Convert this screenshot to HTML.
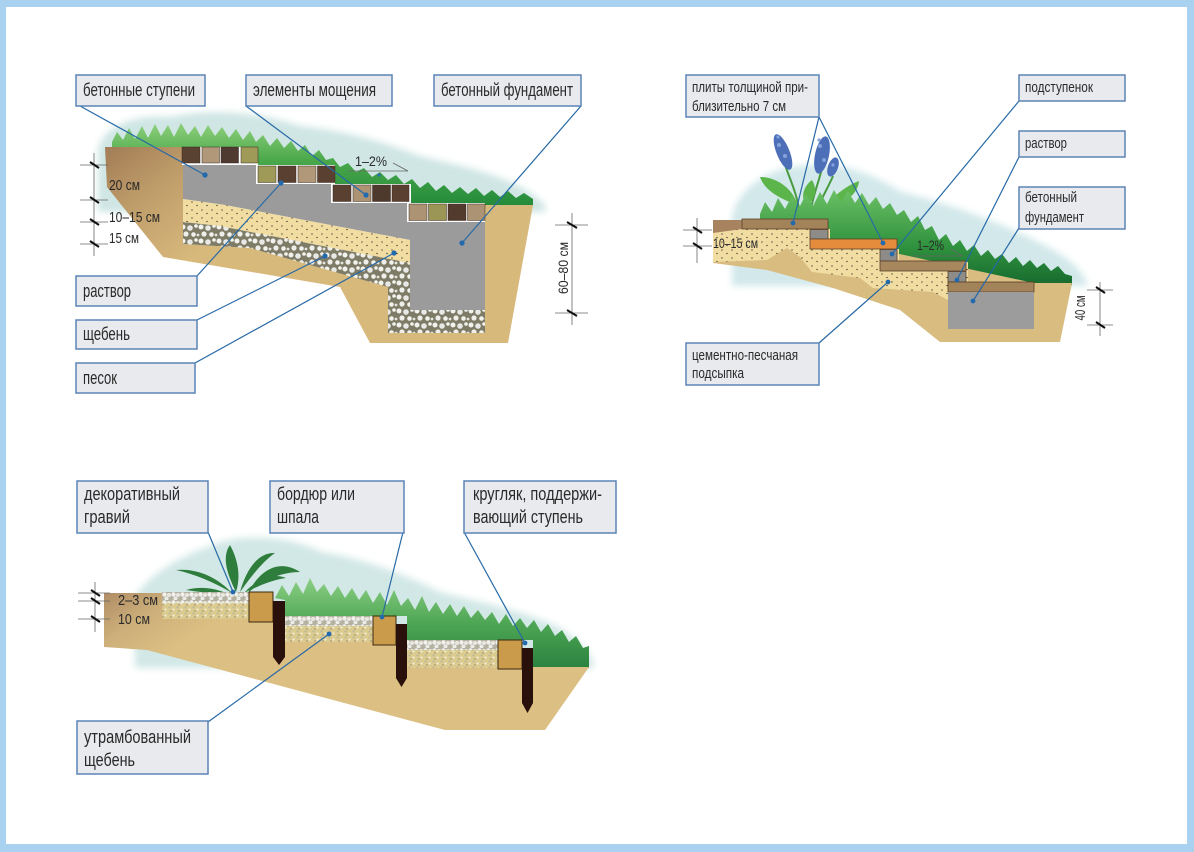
<!DOCTYPE html>
<html><head><meta charset="utf-8">
<style>
html,body{margin:0;padding:0;background:#a8d2f0;}
svg{display:block;}
text{font-family:"Liberation Sans",sans-serif;fill:#2a2a2a;}
</style></head><body>
<svg width="1194" height="852" viewBox="0 0 1194 852" xmlns="http://www.w3.org/2000/svg">
<defs>
 <pattern id="sandA" width="10" height="8" patternUnits="userSpaceOnUse">
  <rect width="10" height="8" fill="#f1dca2"/>
  <circle cx="2" cy="2" r="0.65" fill="#2d2a20"/>
  <circle cx="7" cy="5.5" r="0.65" fill="#2d2a20"/>
 </pattern>
 <pattern id="gravelA" width="18" height="14" patternUnits="userSpaceOnUse">
  <rect width="18" height="14" fill="#7e7c66"/>
  <circle cx="3" cy="3" r="2.5" fill="#f2f2ee"/>
  <circle cx="10" cy="4" r="2.8" fill="#e8e9e6"/>
  <circle cx="16" cy="2" r="1.8" fill="#f4f4f0"/>
  <circle cx="6" cy="10" r="2.6" fill="#eeeeea"/>
  <circle cx="13.5" cy="10.5" r="2.3" fill="#f2f2ee"/>
  <circle cx="0" cy="11" r="1.4" fill="#e6e6e2"/>
  <circle cx="18" cy="11" r="1.4" fill="#e6e6e2"/>
 </pattern>
 <pattern id="peb" width="9" height="8" patternUnits="userSpaceOnUse">
  <rect width="9" height="8" fill="#b5b2a2"/>
  <circle cx="2.5" cy="2.5" r="2.2" fill="#f0f0ec"/>
  <circle cx="7" cy="3" r="2" fill="#e8e8e2"/>
  <circle cx="4.5" cy="6.5" r="2" fill="#ecece6"/>
 </pattern>
 <pattern id="yel" width="8" height="6" patternUnits="userSpaceOnUse">
  <rect width="8" height="6" fill="#dccb8e"/>
  <circle cx="1.5" cy="1.5" r="1" fill="#b8b4a0"/>
  <circle cx="5.5" cy="3.5" r="1.1" fill="#eeeadc"/>
  <circle cx="3" cy="5" r="0.7" fill="#8a8470"/>
 </pattern>
 <linearGradient id="soilTL" x1="105" y1="147" x2="190" y2="260" gradientUnits="userSpaceOnUse">
  <stop offset="0" stop-color="#a27c56"/><stop offset="0.45" stop-color="#bf9d6a"/><stop offset="1" stop-color="#d8b97c"/>
 </linearGradient>
 <linearGradient id="soilB" x1="104" y1="593" x2="150" y2="665" gradientUnits="userSpaceOnUse">
  <stop offset="0" stop-color="#b08c66"/><stop offset="0.5" stop-color="#cdb07a"/><stop offset="1" stop-color="#dcbf82"/>
 </linearGradient>
 <linearGradient id="grass" x1="0" y1="0" x2="0" y2="1">
  <stop offset="0" stop-color="#8fd07c"/><stop offset="0.45" stop-color="#4aa84a"/><stop offset="1" stop-color="#238a3a"/>
 </linearGradient>
 <linearGradient id="grassD" x1="0" y1="0" x2="0" y2="1">
  <stop offset="0" stop-color="#6cc064"/><stop offset="0.6" stop-color="#2f923e"/><stop offset="1" stop-color="#176a2e"/>
 </linearGradient>
 <linearGradient id="grassB" x1="0" y1="0" x2="0" y2="1">
  <stop offset="0" stop-color="#8ccf84"/><stop offset="0.5" stop-color="#4ea654"/><stop offset="1" stop-color="#2a8240"/>
 </linearGradient>
 <filter id="blur" x="-10%" y="-20%" width="120%" height="140%"><feGaussianBlur stdDeviation="3.5"/></filter>
</defs>

<rect width="1194" height="852" fill="#a8d2f0"/>
<rect x="6" y="7" width="1181" height="837" fill="#ffffff"/>

<!-- ================= TOP-LEFT DIAGRAM ================= -->
<path d="M98,150 C102,128 130,114 170,117 C210,108 260,112 300,126 C340,130 380,140 420,156 C470,168 520,178 545,205 L545,212 L98,212 Z" fill="#cfe6e4" filter="url(#blur)"/>
<polygon fill="url(#grass)" points="112,142 117,132 123,140 129,128 135,139 142,126 148,138 155,124 161,136 168,125 174,137 181,123 188,135 195,126 201,137 208,125 215,136 222,127 229,138 236,129 243,140 250,131 256,142 263,135 270,146 277,138 284,148 291,141 298,151 305,145 312,156 319,150 326,160 333,158 340,167 348,163 356,172 364,168 372,177 380,172 388,180 396,175 404,184 412,179 420,188 428,182 436,191 444,185 452,193 460,187 468,194 476,188 484,196 492,190 500,197 508,191 516,198 524,193 533,199 533,206 409,206 409,187 333,187 333,168 258,168 258,149 112,149"/>
<polygon fill="url(#soilTL)" points="105,147 183,147 183,244 250,248 485,248 485,205 533,205 508,343 370,343 340,287 163,257 107,187"/>
<polygon fill="#9b9b9b" points="183,165 258,165 258,184 333,184 333,203 409,203 409,222 485,222 485,310 410,310 410,240 225,205 183,199"/>
<polygon fill="url(#sandA)" points="183,199 225,205 410,240 410,263 220,226 183,222"/>
<polygon fill="url(#gravelA)" points="183,222 220,226 410,263 410,310 485,310 485,333 388,333 388,287 250,248 183,244"/>
<!-- pavers -->
<rect x="182" y="147" width="76" height="18" fill="#fff"/>
<rect x="256" y="165" width="79" height="19" fill="#fff"/>
<rect x="331" y="184" width="80" height="19" fill="#fff"/>
<rect x="407" y="203" width="78" height="19" fill="#fff"/>
<g stroke="#3a2a20" stroke-width="0.5">
 <rect x="182" y="147" width="18" height="16" fill="#5a4232"/>
 <rect x="202" y="147" width="17.5" height="16" fill="#b09878"/>
 <rect x="221" y="147" width="17.5" height="16" fill="#4e3a30"/>
 <rect x="241" y="147" width="17" height="16" fill="#a09a58"/>
 <rect x="258" y="166" width="18" height="16.5" fill="#a09a58"/>
 <rect x="278" y="166" width="18" height="16.5" fill="#5a4030"/>
 <rect x="298" y="166" width="18" height="16.5" fill="#b09878"/>
 <rect x="317.5" y="166" width="17.5" height="16.5" fill="#5a4030"/>
 <rect x="333" y="185" width="18" height="16.5" fill="#5a4030"/>
 <rect x="353" y="185" width="18" height="16.5" fill="#ab9374"/>
 <rect x="372.5" y="185" width="18" height="16.5" fill="#4e3a2c"/>
 <rect x="392" y="185" width="17" height="16.5" fill="#5a4030"/>
 <rect x="409" y="204" width="18" height="16.5" fill="#ab9374"/>
 <rect x="428.5" y="204" width="18" height="16.5" fill="#9c9656"/>
 <rect x="448" y="204" width="18" height="16.5" fill="#523a2c"/>
 <rect x="467.5" y="204" width="17.5" height="16.5" fill="#ab9374"/>
</g>
<!-- dims TL -->
<g stroke="#666" stroke-width="0.8">
 <line x1="94" y1="153" x2="94" y2="256"/>
 <line x1="80" y1="165" x2="108" y2="165"/>
 <line x1="80" y1="200" x2="108" y2="200"/>
 <line x1="80" y1="222" x2="108" y2="222"/>
 <line x1="80" y1="244" x2="108" y2="244"/>
 <line x1="572" y1="213" x2="572" y2="325"/>
 <line x1="555" y1="225" x2="588" y2="225"/>
 <line x1="555" y1="313" x2="588" y2="313"/>
 <line x1="348" y1="171" x2="408" y2="171"/>
 <line x1="393" y1="163" x2="408" y2="171"/>
</g>
<g stroke="#111" stroke-width="2">
 <line x1="90" y1="162" x2="99" y2="168"/>
 <line x1="90" y1="197" x2="99" y2="203"/>
 <line x1="90" y1="219" x2="99" y2="225"/>
 <line x1="90" y1="241" x2="99" y2="247"/>
 <line x1="567" y1="222" x2="577" y2="228"/>
 <line x1="567" y1="310" x2="577" y2="316"/>
</g>
<text x="109" y="190" font-size="15" textLength="31" lengthAdjust="spacingAndGlyphs">20 см</text>
<text x="109" y="222" font-size="15" textLength="51" lengthAdjust="spacingAndGlyphs">10–15 см</text>
<text x="109" y="243" font-size="15" textLength="30" lengthAdjust="spacingAndGlyphs">15 см</text>
<text x="355" y="166" font-size="14" textLength="32" lengthAdjust="spacingAndGlyphs">1–2%</text>
<text transform="translate(568,268) rotate(-90)" text-anchor="middle" font-size="14" textLength="52" lengthAdjust="spacingAndGlyphs">60–80 см</text>
<circle cx="379" cy="175" r="1.6" fill="#2a6db0"/>
<!-- leaders TL -->
<g stroke="#2769a6" stroke-width="1.2" fill="none">
 <line x1="80" y1="106" x2="205" y2="175"/>
 <line x1="246" y1="106" x2="366" y2="195"/>
 <line x1="581" y1="106" x2="462" y2="243"/>
 <line x1="197" y1="276" x2="281" y2="183"/>
 <line x1="197" y1="320" x2="325" y2="256"/>
 <line x1="195" y1="363" x2="394" y2="253"/>
</g>
<g fill="#2269ad">
 <circle cx="205" cy="175" r="2.6"/><circle cx="366" cy="195" r="2.6"/><circle cx="462" cy="243" r="2.6"/>
 <circle cx="281" cy="183" r="2.6"/><circle cx="325" cy="256" r="2.6"/><circle cx="394" cy="253" r="2.6"/>
</g>
<!-- labels TL -->
<g fill="#e8eaed" stroke="#5a84b8" stroke-width="1.5">
 <rect x="76" y="75" width="129" height="31"/>
 <rect x="246" y="75" width="146" height="31"/>
 <rect x="434" y="75" width="147" height="31"/>
 <rect x="76" y="276" width="121" height="30"/>
 <rect x="76" y="320" width="121" height="29"/>
 <rect x="76" y="363" width="119" height="30"/>
</g>
<text x="83" y="96" font-size="18" textLength="112" lengthAdjust="spacingAndGlyphs">бетонные ступени</text>
<text x="253" y="96" font-size="18" textLength="123" lengthAdjust="spacingAndGlyphs">элементы мощения</text>
<text x="441" y="96" font-size="18" textLength="132" lengthAdjust="spacingAndGlyphs">бетонный фундамент</text>
<text x="83" y="297" font-size="18" textLength="48" lengthAdjust="spacingAndGlyphs">раствор</text>
<text x="83" y="340" font-size="18" textLength="47" lengthAdjust="spacingAndGlyphs">щебень</text>
<text x="83" y="384" font-size="18" textLength="34" lengthAdjust="spacingAndGlyphs">песок</text>

<!-- ================= TOP-RIGHT DIAGRAM ================= -->
<path d="M732,218 C736,190 768,168 800,166 C840,160 872,174 902,192 C942,202 990,218 1030,238 C1060,252 1082,266 1088,286 L732,286 Z" fill="#d2e8ea" filter="url(#blur)"/>
<!-- flowers -->
<g stroke="#4a9a40" stroke-width="2" fill="none">
 <path d="M800,216 C798,195 790,180 784,162"/>
 <path d="M810,216 C812,198 818,185 822,168"/>
 <path d="M815,216 C820,200 828,188 833,176"/>
</g>
<g fill="#4d6fb8">
 <ellipse cx="783" cy="152" rx="6.5" ry="19" transform="rotate(-22 783 152)"/>
 <ellipse cx="822" cy="155" rx="7" ry="19" transform="rotate(12 822 155)"/>
 <ellipse cx="833" cy="167" rx="5" ry="10" transform="rotate(20 833 167)"/>
</g>
<g fill="#86a2dc">
 <circle cx="779" cy="145" r="2"/><circle cx="785" cy="156" r="2"/><circle cx="778" cy="137" r="1.6"/>
 <circle cx="820" cy="146" r="2"/><circle cx="824" cy="160" r="2"/><circle cx="819" cy="140" r="1.6"/>
 <circle cx="833" cy="165" r="1.6"/>
</g>
<g fill="#5cb54a">
 <path d="M798,206 C786,200 766,194 760,177 C776,177 793,188 798,206 Z"/>
 <path d="M826,206 C834,195 848,185 859,181 C858,195 843,205 826,206 Z"/>
 <path d="M806,206 C800,196 804,186 812,180 C818,190 815,200 806,206 Z"/>
</g>
<polygon fill="url(#grassD)" points="760,214 765,202 772,212 778,198 785,209 792,196 799,208 806,194 813,206 820,192 827,204 834,190 841,202 848,191 855,203 862,193 869,205 876,197 883,209 890,203 897,215 904,210 911,222 918,216 925,230 932,226 939,240 946,234 953,246 960,240 967,251 974,245 981,256 988,250 995,259 1002,254 1009,263 1016,257 1023,266 1030,260 1037,268 1044,263 1051,271 1058,266 1065,274 1072,276 1072,285 948,285 948,263 880,263 880,241 810,241 810,221 760,221"/>
<polygon fill="#d9bc80" points="713,220 742,220 1034,283 1072,283 1060,342 940,342 900,310 833,288 767,270 713,263"/>
<rect x="713" y="220" width="30" height="13" fill="#a88360"/>
<polygon fill="url(#sandA)" points="713,233 742,229 830,229 830,249 899,249 899,262 968,262 968,282 948,282 948,300 933,292 873,288 860,278 812,272 800,257 787,248 767,260 713,262"/>
<g stroke="#5a4028" stroke-width="0.8">
 <rect x="742" y="219" width="86" height="10" fill="#a2835a"/>
 <rect x="810" y="229.5" width="18" height="9.5" fill="#8e8c88"/>
 <rect x="810" y="239" width="87" height="10" fill="#e58c3c"/>
 <rect x="880" y="249.5" width="17" height="11.5" fill="#8e8c88"/>
 <rect x="880" y="261" width="86" height="10" fill="#a6875e"/>
 <rect x="948" y="271.5" width="18" height="10.5" fill="#8e8c88"/>
 <rect x="948" y="282" width="86" height="10" fill="#a2835a"/>
</g>
<rect x="948" y="292" width="86" height="37" fill="#9c9c9c"/>
<!-- dims TR -->
<g stroke="#666" stroke-width="0.8">
 <line x1="697" y1="218" x2="697" y2="263"/>
 <line x1="683" y1="230" x2="712" y2="230"/>
 <line x1="683" y1="246" x2="712" y2="246"/>
 <line x1="1100" y1="282" x2="1100" y2="336"/>
 <line x1="1087" y1="290" x2="1113" y2="290"/>
 <line x1="1087" y1="325" x2="1113" y2="325"/>
 <line x1="913" y1="256" x2="962" y2="256"/>
 <line x1="951" y1="249" x2="962" y2="256"/>
</g>
<g stroke="#111" stroke-width="2">
 <line x1="693" y1="227" x2="702" y2="233"/>
 <line x1="693" y1="243" x2="702" y2="249"/>
 <line x1="1096" y1="287" x2="1105" y2="293"/>
 <line x1="1096" y1="322" x2="1105" y2="328"/>
</g>
<text x="713" y="248" font-size="14" textLength="45" lengthAdjust="spacingAndGlyphs">10–15 см</text>
<text x="917" y="250" font-size="14" textLength="27" lengthAdjust="spacingAndGlyphs">1–2%</text>
<text transform="translate(1085,308) rotate(-90)" text-anchor="middle" font-size="15" textLength="25" lengthAdjust="spacingAndGlyphs">40 см</text>
<!-- leaders TR -->
<g stroke="#2769a6" stroke-width="1.2" fill="none">
 <line x1="819" y1="117" x2="793" y2="223"/>
 <line x1="819" y1="117" x2="883" y2="243"/>
 <line x1="1019" y1="101" x2="892" y2="254"/>
 <line x1="1019" y1="157" x2="957" y2="280"/>
 <line x1="1019" y1="228" x2="973" y2="301"/>
 <line x1="819" y1="343" x2="888" y2="282"/>
</g>
<g fill="#2269ad">
 <circle cx="793" cy="223" r="2.4"/><circle cx="883" cy="243" r="2.4"/><circle cx="892" cy="254" r="2.4"/>
 <circle cx="957" cy="280" r="2.4"/><circle cx="973" cy="301" r="2.4"/><circle cx="888" cy="282" r="2.4"/>
</g>
<g fill="#e8eaed" stroke="#5a84b8" stroke-width="1.5">
 <rect x="686" y="75" width="133" height="42"/>
 <rect x="1019" y="75" width="106" height="26"/>
 <rect x="1019" y="131" width="106" height="26"/>
 <rect x="1019" y="187" width="106" height="42"/>
 <rect x="686" y="343" width="133" height="42"/>
</g>
<text x="692" y="92" font-size="15" textLength="116" lengthAdjust="spacingAndGlyphs">плиты толщиной при-</text>
<text x="692" y="111" font-size="15" textLength="94" lengthAdjust="spacingAndGlyphs">близительно 7 см</text>
<text x="1025" y="92" font-size="15" textLength="68" lengthAdjust="spacingAndGlyphs">подступенок</text>
<text x="1025" y="148" font-size="15" textLength="42" lengthAdjust="spacingAndGlyphs">раствор</text>
<text x="1025" y="202" font-size="15" textLength="52" lengthAdjust="spacingAndGlyphs">бетонный</text>
<text x="1025" y="222" font-size="15" textLength="59" lengthAdjust="spacingAndGlyphs">фундамент</text>
<text x="692" y="360" font-size="15" textLength="106" lengthAdjust="spacingAndGlyphs">цементно-песчаная</text>
<text x="692" y="378" font-size="15" textLength="52" lengthAdjust="spacingAndGlyphs">подсыпка</text>

<!-- ================= BOTTOM DIAGRAM ================= -->
<path d="M135,597 C148,575 180,556 210,546 C240,532 290,536 322,552 C360,558 400,572 440,592 C480,602 530,612 560,628 C580,640 594,655 594,668 L135,668 Z" fill="#d2e8e6" filter="url(#blur)"/>
<g fill="#2f7d3c">
 <path d="M232,593 C218,578 198,568 176,570 C194,574 214,582 232,593 Z"/>
 <path d="M236,592 C226,572 222,556 230,545 C238,560 241,576 236,592 Z"/>
 <path d="M240,592 C246,570 258,552 275,553 C262,562 250,578 240,592 Z"/>
 <path d="M244,593 C256,580 272,572 286,578 C272,580 258,586 244,593 Z"/>
 <path d="M226,593 C214,588 200,586 186,590 C200,592 214,594 226,593 Z"/>
 <path d="M248,593 C262,566 282,560 300,572 C282,572 262,580 248,593 Z"/>
</g>
<polygon fill="url(#grassB)" points="275,598 282,585 289,596 296,582 303,594 310,578 317,592 324,584 331,596 338,586 345,598 352,588 359,600 366,590 373,603 380,592 387,605 394,590 401,606 408,598 415,610 422,596 429,612 436,602 443,614 450,604 457,616 464,606 471,618 478,610 485,620 492,612 499,624 506,614 513,626 520,618 527,628 534,620 541,632 548,624 555,636 562,630 569,642 576,636 583,648 589,646 589,668 533,668 533,640 407,640 407,616 285,616 285,600"/>
<polygon fill="url(#soilB)" points="104,593 250,593 250,616 373,616 373,640 498,640 498,667 589,667 545,730 445,730 147,650 104,647"/>
<rect x="162" y="592" width="88" height="11" fill="url(#peb)"/>
<rect x="162" y="603" width="88" height="16" fill="url(#yel)"/>
<rect x="284" y="616" width="89" height="10" fill="url(#peb)"/>
<rect x="284" y="626" width="89" height="16" fill="url(#yel)"/>
<rect x="407" y="640" width="91" height="10" fill="url(#peb)"/>
<rect x="407" y="650" width="91" height="18" fill="url(#yel)"/>
<g fill="#c99b4a" stroke="#3a2a10" stroke-width="1">
 <rect x="249" y="592" width="24" height="30"/>
 <rect x="373" y="616" width="23" height="29"/>
 <rect x="498" y="640" width="24" height="29"/>
</g>
<g fill="#2a100a">
 <path d="M273,601 L285,601 L285,657 L279,665 L273,657 Z"/>
 <path d="M396,624 L407,624 L407,678 L401.5,687 L396,678 Z"/>
 <path d="M522,648 L533,648 L533,703 L527.5,713 L522,703 Z"/>
</g>
<!-- dims bottom -->
<g stroke="#666" stroke-width="0.8">
 <line x1="95" y1="582" x2="95" y2="632"/>
 <line x1="78" y1="593" x2="110" y2="593"/>
 <line x1="78" y1="601" x2="110" y2="601"/>
 <line x1="78" y1="619" x2="110" y2="619"/>
</g>
<g stroke="#111" stroke-width="2">
 <line x1="91" y1="590" x2="100" y2="596"/>
 <line x1="91" y1="598" x2="100" y2="604"/>
 <line x1="91" y1="616" x2="100" y2="622"/>
</g>
<text x="118" y="605" font-size="15" textLength="40" lengthAdjust="spacingAndGlyphs">2–3 см</text>
<text x="118" y="624" font-size="15" textLength="32" lengthAdjust="spacingAndGlyphs">10 см</text>
<!-- leaders bottom -->
<g stroke="#2769a6" stroke-width="1.2" fill="none">
 <line x1="208" y1="532" x2="233" y2="592"/>
 <line x1="403" y1="532" x2="382" y2="617"/>
 <line x1="464" y1="532" x2="525" y2="643"/>
 <line x1="208" y1="722" x2="329" y2="634"/>
</g>
<g fill="#2269ad">
 <circle cx="233" cy="592" r="2.4"/><circle cx="382" cy="617" r="2.4"/><circle cx="525" cy="643" r="2.4"/><circle cx="329" cy="634" r="2.4"/>
</g>
<g fill="#e8eaed" stroke="#5a84b8" stroke-width="1.5">
 <rect x="77" y="481" width="131" height="52"/>
 <rect x="270" y="481" width="134" height="52"/>
 <rect x="464" y="481" width="152" height="52"/>
 <rect x="77" y="721" width="131" height="53"/>
</g>
<text x="84" y="500" font-size="18" textLength="96" lengthAdjust="spacingAndGlyphs">декоративный</text>
<text x="84" y="523" font-size="18" textLength="46" lengthAdjust="spacingAndGlyphs">гравий</text>
<text x="277" y="500" font-size="18" textLength="78" lengthAdjust="spacingAndGlyphs">бордюр или</text>
<text x="277" y="523" font-size="18" textLength="42" lengthAdjust="spacingAndGlyphs">шпала</text>
<text x="473" y="500" font-size="18" textLength="129" lengthAdjust="spacingAndGlyphs">кругляк, поддержи-</text>
<text x="473" y="523" font-size="18" textLength="110" lengthAdjust="spacingAndGlyphs">вающий ступень</text>
<text x="84" y="743" font-size="18" textLength="107" lengthAdjust="spacingAndGlyphs">утрамбованный</text>
<text x="84" y="766" font-size="18" textLength="51" lengthAdjust="spacingAndGlyphs">щебень</text>
</svg>
</body></html>
